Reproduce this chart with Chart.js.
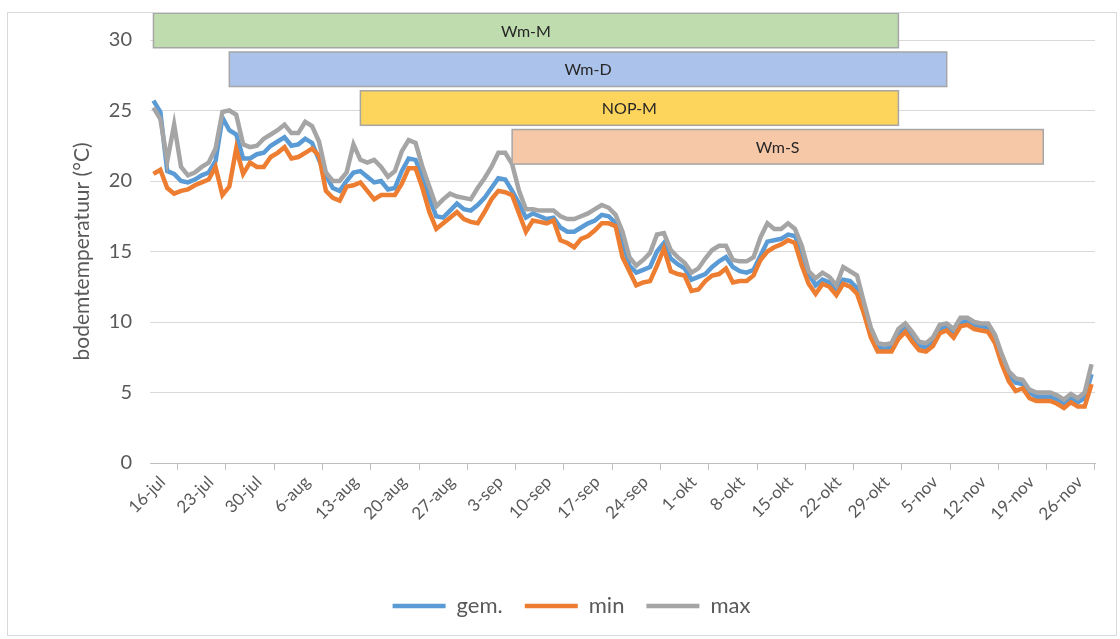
<!DOCTYPE html>
<html>
<head>
<meta charset="utf-8">
<script src="https://cdn.jsdelivr.net/npm/chart.js@4.4.0/dist/chart.umd.min.js"></script>
<style>
html, body { margin: 0; padding: 0; background: #fff; }
#wrap { position: relative; width: 1120px; height: 639px; }
#frame { position: absolute; left: 7px; top: 12px; width: 1110px; height: 624px;
         border: 1px solid #d9d9d9; box-sizing: border-box; pointer-events: none; }
</style>
</head>
<body>
<div id="wrap">
  <canvas id="chart" width="1120" height="639"></canvas>
  <div id="frame"></div>
</div>
<script>
// daily soil temperature, 16-jul .. 29-nov
const gem = [
  25.7, 24.9, 20.7, 20.5, 20.0, 19.9, 20.1, 20.4, 20.6, 21.4,
  24.5, 23.6, 23.3, 21.6, 21.6, 21.9, 22.0, 22.5, 22.8, 23.1,
  22.5, 22.6, 23.0, 22.7, 21.5, 20.4, 19.5, 19.3, 20.0, 20.6,
  20.7, 20.3, 19.9, 20.0, 19.4, 19.5, 20.7, 21.6, 21.5, 20.3,
  18.8, 17.5, 17.4, 17.9, 18.4, 18.0, 17.9, 18.3, 18.8, 19.5,
  20.2, 20.1, 19.3, 18.4, 17.4, 17.7, 17.5, 17.3, 17.4, 16.7,
  16.4, 16.4, 16.7, 17.0, 17.2, 17.6, 17.5, 17.0, 15.7, 14.0,
  13.5, 13.7, 13.9, 15.0, 15.6, 14.5, 14.1, 13.8, 13.0, 13.2,
  13.4, 13.9, 14.3, 14.6, 13.9, 13.6, 13.5, 13.7, 14.7, 15.7,
  15.8, 15.9, 16.2, 16.1, 15.0, 13.4, 12.6, 13.0, 12.8, 12.3,
  13.0, 12.9, 12.4, 11.0, 9.3, 8.2, 8.1, 8.2, 9.1, 9.6,
  9.0, 8.3, 8.2, 8.6, 9.5, 9.7, 9.2, 9.9, 10.1, 9.8,
  9.7, 9.6, 8.9, 7.4, 6.2, 5.7, 5.6, 5.0, 4.7, 4.7,
  4.7, 4.5, 4.2, 4.6, 4.3, 4.6, 6.3
];
const minT = [
  20.5, 20.8, 19.5, 19.1, 19.3, 19.4, 19.7, 19.9, 20.1, 21.0,
  19.0, 19.6, 22.3, 20.5, 21.3, 21.0, 21.0, 21.7, 22.0, 22.4,
  21.6, 21.7, 22.0, 22.3, 21.8, 19.3, 18.8, 18.6, 19.6, 19.7,
  19.9, 19.3, 18.7, 19.0, 19.0, 19.0, 19.8, 20.9, 20.9, 19.5,
  17.8, 16.6, 17.0, 17.4, 17.8, 17.3, 17.1, 17.0, 17.8, 18.7,
  19.3, 19.2, 19.0, 17.7, 16.4, 17.2, 17.1, 17.0, 17.2, 15.8,
  15.6, 15.3, 15.9, 16.1, 16.5, 17.0, 17.0, 16.8, 14.6, 13.6,
  12.6, 12.8, 12.9, 14.0, 15.2, 13.6, 13.4, 13.3, 12.2, 12.3,
  12.9, 13.3, 13.4, 13.8, 12.8, 12.9, 12.9, 13.3, 14.4, 15.0,
  15.3, 15.5, 15.8, 15.6, 14.0, 12.7, 12.0, 12.7, 12.5, 11.9,
  12.7, 12.5, 12.0, 10.6, 8.9, 7.9, 7.9, 7.9, 8.8, 9.3,
  8.6, 8.0, 7.9, 8.3, 9.2, 9.4, 8.9, 9.7, 9.8, 9.5,
  9.4, 9.3, 8.5, 7.0, 5.8, 5.1, 5.3, 4.6, 4.4, 4.4,
  4.4, 4.2, 3.9, 4.3, 4.0, 4.0, 5.6
];
const maxT = [
  25.2, 24.4, 21.4, 24.0, 21.0, 20.4, 20.6, 21.0, 21.3, 22.3,
  24.9, 25.0, 24.7, 22.6, 22.4, 22.5, 23.0, 23.3, 23.6, 24.0,
  23.4, 23.4, 24.2, 23.9, 22.8, 20.6, 20.0, 20.0, 20.6, 22.6,
  21.5, 21.3, 21.5, 21.0, 20.3, 20.7, 22.1, 22.9, 22.7, 21.0,
  19.6, 18.2, 18.7, 19.1, 18.9, 18.8, 18.7, 19.5, 20.2, 21.0,
  22.0, 22.0, 21.2, 19.3, 18.0, 18.0, 17.9, 17.9, 17.9, 17.5,
  17.3, 17.3, 17.5, 17.7, 18.0, 18.3, 18.1, 17.6, 16.4, 14.6,
  14.0, 14.4, 14.9, 16.2, 16.3, 15.1, 14.6, 14.2, 13.5, 13.8,
  14.5, 15.1, 15.4, 15.4, 14.4, 14.3, 14.3, 14.6, 16.0, 17.0,
  16.6, 16.6, 17.0, 16.6, 15.4, 13.6, 13.1, 13.5, 13.2, 12.6,
  13.9, 13.6, 13.3, 11.4, 9.6, 8.5, 8.4, 8.5, 9.5, 9.9,
  9.3, 8.6, 8.5, 8.9, 9.8, 9.9, 9.5, 10.3, 10.3, 10.0,
  9.9, 9.9, 9.1, 7.7, 6.5, 6.0, 5.9, 5.2, 5.0, 5.0,
  5.0, 4.8, 4.5, 4.9, 4.6, 5.0, 7.0
];

// treatment periods drawn as bars over the chart
const phaseNames = ['Wm-M', 'Wm-D', 'NOP-M', 'Wm-S'];
const phaseStart = ['16-jul', '27-jul', '15-aug', '6-sep'];
const phaseEnd = ['1-nov', '8-nov', '1-nov', '22-nov'];
const phaseColors = ['#bfdcae', '#abc2ea', '#fdd55c', '#f6c8a8'];

const monthNames = ['jan', 'feb', 'mrt', 'apr', 'mei', 'jun', 'jul', 'aug', 'sep', 'okt', 'nov', 'dec'];

const days = [];
for (let i = 0; i < gem.length; i++) {
    const d = new Date(2019, 6, 16 + i);
    days.push(d.getDate() + '-' + monthNames[d.getMonth()]);
}

const textColor = '#595959';
Chart.defaults.font.family = 'Lato, "Open Sans", sans-serif';
Chart.defaults.color = textColor;

const phasePlugin = {
    id: 'phases',
    afterDatasetsDraw(chart) {
        const ctx = chart.ctx;
        const x = chart.scales.x;
        const y = chart.scales.y;
        ctx.save();
        phaseNames.forEach((name, i) => {
            const x0 = x.getPixelForValue(days.indexOf(phaseStart[i]));
            const x1 = x.getPixelForValue(days.indexOf(phaseEnd[i]));
            const y0 = y.getPixelForValue(31.9 - i * 2.75);
            const y1 = y.getPixelForValue(29.45 - i * 2.75);
            ctx.fillStyle = phaseColors[i];
            ctx.fillRect(x0, y0, x1 - x0, y1 - y0);
            ctx.strokeStyle = '#a6a6a6';
            ctx.lineWidth = 1.5;
            ctx.strokeRect(x0, y0, x1 - x0, y1 - y0);
            ctx.fillStyle = '#262626';
            ctx.font = '16px Lato';
            ctx.textAlign = 'center';
            ctx.textBaseline = 'middle';
            ctx.fillText(name, (x0 + x1) / 2, (y0 + y1) / 2 + 1);
        });
        ctx.restore();
    }
};

new Chart(document.getElementById('chart').getContext('2d'), {
    type: 'line',
    data: {
        labels: days,
        datasets: [
            { label: 'gem.', data: gem, borderColor: '#5b9bd5', backgroundColor: '#5b9bd5', borderWidth: 4.5, order: 3 },
            { label: 'min', data: minT, borderColor: '#ed7d31', backgroundColor: '#ed7d31', borderWidth: 4.5, order: 2 },
            { label: 'max', data: maxT, borderColor: '#a5a5a5', backgroundColor: '#a5a5a5', borderWidth: 4.5, order: 1 }
        ]
    },
    options: {
        responsive: false,
        animation: false,
        elements: {
            line: { tension: 0 },
            point: { radius: 0 }
        },
        layout: { padding: { left: 48, top: 40, right: 25, bottom: 12 } },
        plugins: {
            tooltip: { enabled: false },
            legend: {
                position: 'bottom',
                labels: {
                    usePointStyle: true,
                    pointStyle: 'line',
                    pointStyleWidth: 53,
                    font: { size: 22 },
                    color: textColor,
                    padding: 22,
                    sort: (a, b) => a.datasetIndex - b.datasetIndex
                }
            }
        },
        scales: {
            x: {
                offset: true,
                grid: { offset: true, drawOnChartArea: false, drawTicks: true, tickLength: 7, color: '#bfbfbf' },
                border: { color: '#bfbfbf', width: 1 },
                ticks: {
                    autoSkip: false,
                    maxRotation: 45,
                    minRotation: 45,
                    padding: 2,
                    labelOffset: 9,
                    font: { size: 17 },
                    callback: function(value, index) {
                        return index % 7 === 0 ? days[index] : null;
                    }
                },
                afterFit: scale => { scale.height = 110; }
            },
            y: {
                min: 0,
                max: 30,
                ticks: { stepSize: 5, padding: 18, font: { size: 20 } },
                grid: { color: '#d9d9d9', drawTicks: false, lineWidth: 1 },
                border: { display: false },
                title: {
                    display: true,
                    text: 'bodemtemperatuur (°C)',
                    font: { size: 21 },
                    color: textColor,
                    padding: { top: 22, bottom: 0 }
                },
                afterFit: scale => { scale.width = 102; }
            }
        }
    },
    plugins: [phasePlugin]
});
</script>
</body>
</html>
